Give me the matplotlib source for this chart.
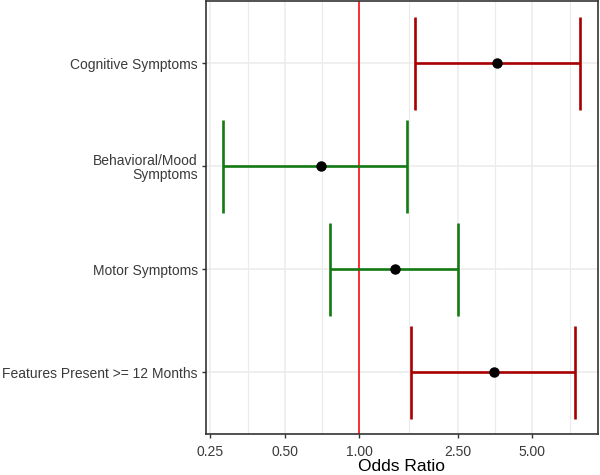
import numpy as np
import matplotlib
matplotlib.use("Agg")
from matplotlib import pyplot as plt
from matplotlib.ticker import FixedLocator, NullFormatter

# outcome labels, bottom to top
labels = ["Features Present >= 12 Months", "Motor Symptoms",
          "Behavioral/Mood\nSymptoms", "Cognitive Symptoms"]
odds = [3.51, 1.39, 0.70, 3.60]
lower = [1.62, 0.763, 0.282, 1.68]
upper = [7.43, 2.50, 1.56, 7.77]
colors = ["#A80000", "#137A13", "#137A13", "#A80000"]

xticks = [0.25, 0.50, 1.00, 2.50, 5.00]

plt.rcParams['font.family'] = ['Liberation Sans', 'DejaVu Sans']

fig = plt.figure(figsize=(6, 4.75), dpi=100)
ax = fig.add_axes([205.5 / 600, 1 - 434 / 475, 392 / 600, 432.5 / 475])

ypos = np.arange(1, len(labels) + 1)

# grid: major + minor (midpoints in log space)
lx = np.log10(xticks)
minors = list((lx[:-1] + lx[1:]) / 2) + [lx[-1] + (lx[-1] - lx[-2]) / 2]
for v in xticks:
    ax.axvline(v, color="#EBEBEB", lw=1.1, zorder=0)
for v in minors:
    ax.axvline(10 ** v, color="#EBEBEB", lw=0.8, zorder=0)
for y in ypos:
    ax.axhline(y, color="#EBEBEB", lw=1.1, zorder=0)

ax.axvline(1.0, color="#FF1F1F", lw=1.3, zorder=1)

for y, o, lo, hi, c in zip(ypos, odds, lower, upper, colors):
    ax.plot([lo, hi], [y, y], color=c, lw=1.9, zorder=2, solid_capstyle="butt")
    ax.plot([lo, lo], [y - 0.45, y + 0.45], color=c, lw=1.9, zorder=2, solid_capstyle="butt")
    ax.plot([hi, hi], [y - 0.45, y + 0.45], color=c, lw=1.9, zorder=2, solid_capstyle="butt")
    ax.plot(o, y, "o", color="black", ms=6.5, zorder=3)

ax.set_xscale("log")
lmin, lmax = np.log10(min(lower)), np.log10(max(upper))
pad = (lmax - lmin) * 0.05
ax.set_xlim(10 ** (lmin - pad), 10 ** (lmax + pad))
ax.set_ylim(0.4, len(labels) + 0.6)

ax.xaxis.set_major_locator(FixedLocator(xticks))
ax.xaxis.set_minor_locator(FixedLocator([]))
ax.xaxis.set_minor_formatter(NullFormatter())
ax.set_xticklabels(["%.2f" % v for v in xticks])
ax.set_yticks(ypos)
ax.set_yticklabels(labels, ha="right", multialignment="right", linespacing=1.0)

ax.tick_params(axis="both", length=3, width=1, color="#333333",
               labelcolor="#3A3A3A", labelsize=10, pad=2.5)
ax.tick_params(axis="x", pad=5)
for s in ax.spines.values():
    s.set_color("#333333")
    s.set_linewidth(1.2)

ax.set_xlabel("Odds Ratio", fontsize=12.5, color="black", labelpad=0)

fig.savefig("out.png", dpi=100)
